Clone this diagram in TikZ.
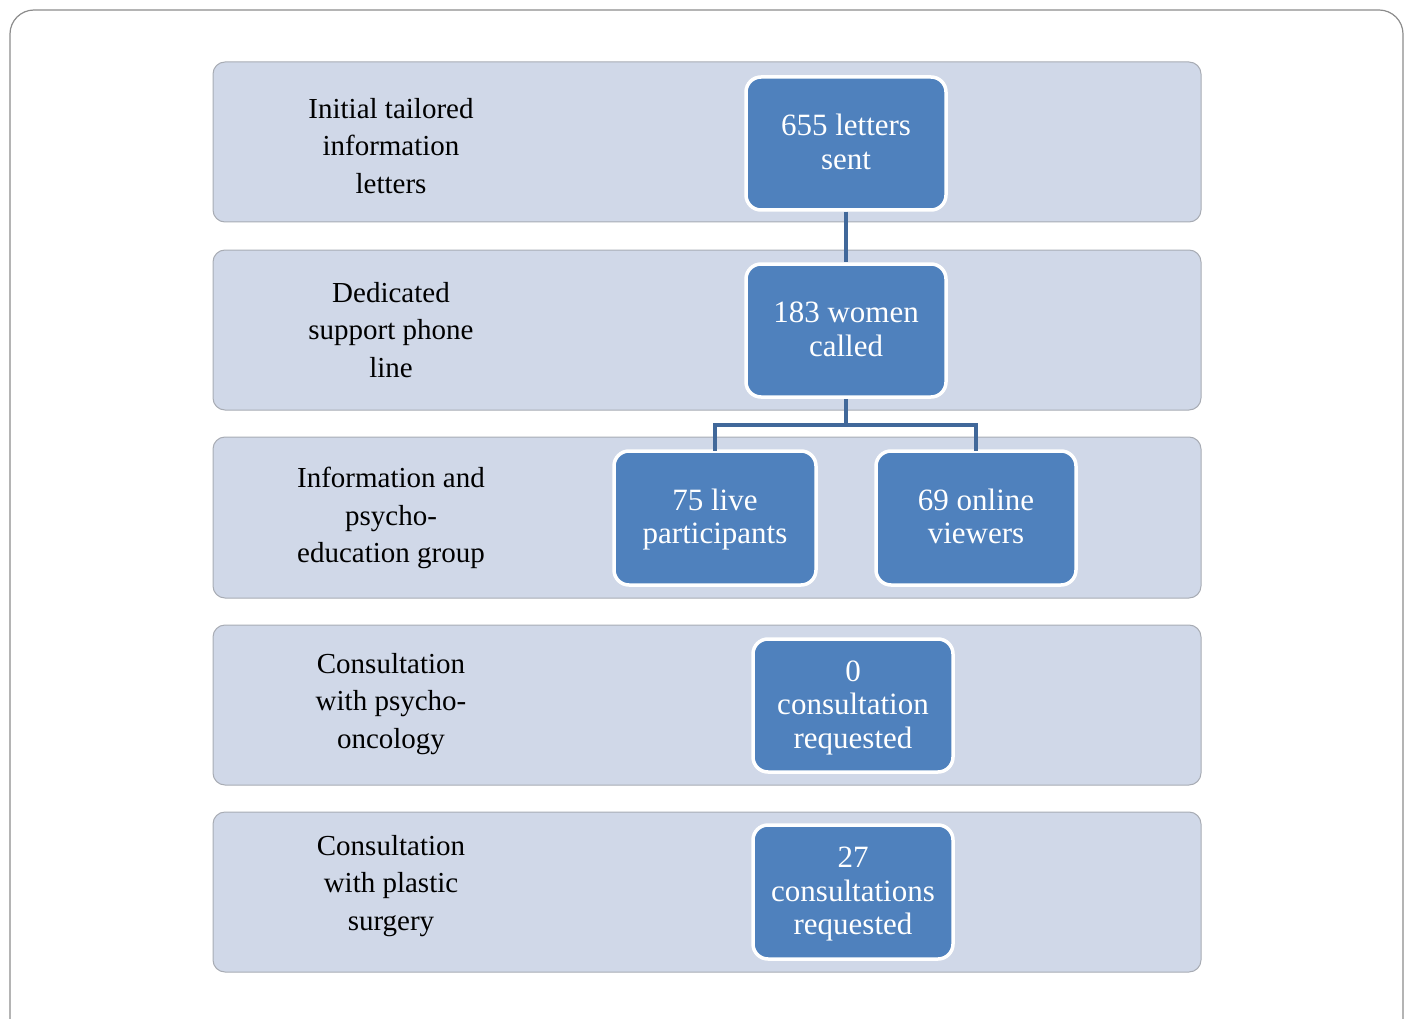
\documentclass[tikz,border=0pt]{standalone}
\usepackage{fontspec}
\setmainfont{Liberation Serif}
\definecolor{bandfill}{HTML}{D0D8E8}
\definecolor{bandline}{HTML}{A8ACB4}
\definecolor{boxfill}{HTML}{4F81BD}
\definecolor{linkcol}{HTML}{41689A}
\definecolor{framecol}{HTML}{8C8C8C}
\newcommand{\tstr}{\rule{0pt}{28.5pt}}
\tikzset{
  band/.style={fill=bandfill, draw=bandline, line width=1pt, rounded corners=12pt},
  lbl/.style={align=center, text=black, font=\fontsize{29}{37.5}\selectfont, inner sep=0pt},
  bluebox/.style={fill=boxfill, draw=white, line width=3.5pt, rounded corners=15pt,
    minimum width=200pt, minimum height=133pt, align=center, text=white,
    font=\fontsize{31}{33.5}\selectfont, inner sep=0pt},
  link/.style={draw=linkcol, line width=4pt}
}
\begin{document}
\begin{tikzpicture}[x=1pt,y=-1pt]
\useasboundingbox (0,0) rectangle (1408,1019);
\begin{scope}
\clip (0,0) rectangle (1408,1019);
\draw[framecol, line width=1.2pt, rounded corners=24pt] (10,10) rectangle (1403,1045);
\end{scope}
% bands
\draw[band] (213,62) rectangle (1201,222);
\draw[band] (213,250) rectangle (1201,410);
\draw[band] (213,437) rectangle (1201,598);
\draw[band] (213,625) rectangle (1201,785);
\draw[band] (213,812) rectangle (1201,972);
% left labels
\node[lbl] (l1) at (391,146) {Initial tailored\\information\\letters};
\node[lbl] (l2) at (391,330) {Dedicated\\support phone\\line};
\node[lbl] (l3) at (391,518) {Information and\\psycho-\\education group};
\node[lbl] (l4) at (391,704) {Consultation\\with psycho-\\oncology};
\node[lbl] (l5) at (391,886) {Consultation\\with plastic\\surgery};
% blue boxes
\node[bluebox] (b1) at (846,143.5) {\tstr 655 letters\\sent\strut};
\node[bluebox] (b2) at (846,330.5) {\tstr 183 women\\called\strut};
\node[bluebox, minimum width=202pt, minimum height=134pt] (b3) at (715,518) {\tstr 75 live\\participants\strut};
\node[bluebox, minimum height=134pt] (b4) at (976,518) {\tstr 69 online\\viewers\strut};
\node[bluebox] (b5) at (853,705.5) {\tstr 0\\consultation\\requested\strut};
\node[bluebox, minimum height=134pt] (b6) at (853,892) {\tstr 27\\consultations\\requested\strut};
% connectors
\coordinate (j) at (846,425);
\draw[link] (b1.south) -- (b2.south |- b2.north);
\draw[link] (b2.south) -- (j);
\draw[link] (j) -| ([yshift=-1.75pt]b3.north);
\draw[link] (j) -| ([yshift=-1.75pt]b4.north);
\end{tikzpicture}
\end{document}
